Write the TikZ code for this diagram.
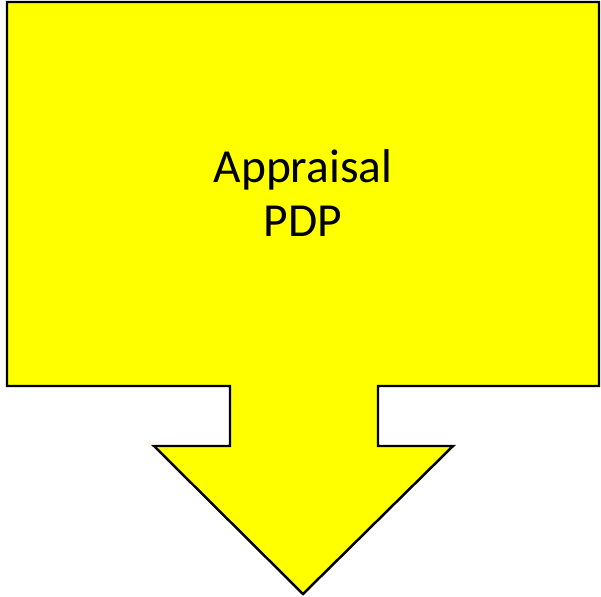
\documentclass[tikz,border=0pt]{standalone}
\usepackage{fontspec}
\setmainfont{Carlito}
\usetikzlibrary{positioning}
\definecolor{calloutyellow}{RGB}{255,255,0}

\begin{document}
\begin{tikzpicture}[x=0.02cm,y=-0.02cm,
  callout/.style={draw=black,line width=1.4pt,fill=calloutyellow,line join=miter},
  label/.style={align=center,font=\fontsize{27}{31}\selectfont,text=black}
]
\useasboundingbox (0,0) rectangle (601,596);
% callout outline
\coordinate (tl) at (7,2);
\coordinate (tr) at (599,2);
\coordinate (br) at (599,386);
\coordinate (bl) at (7,386);
\coordinate (tip) at (303,594);
\draw[callout] (tl) -- (tr) -- (br) -- (378,386) -- (378,446) -- (453,446)
  -- (tip) -- (154,446) -- (230,446) -- (230,386) -- (bl) -- cycle;

\node[label] (appraisal) at (303,193) {Appraisal\\PDP};
\end{tikzpicture}
\end{document}
